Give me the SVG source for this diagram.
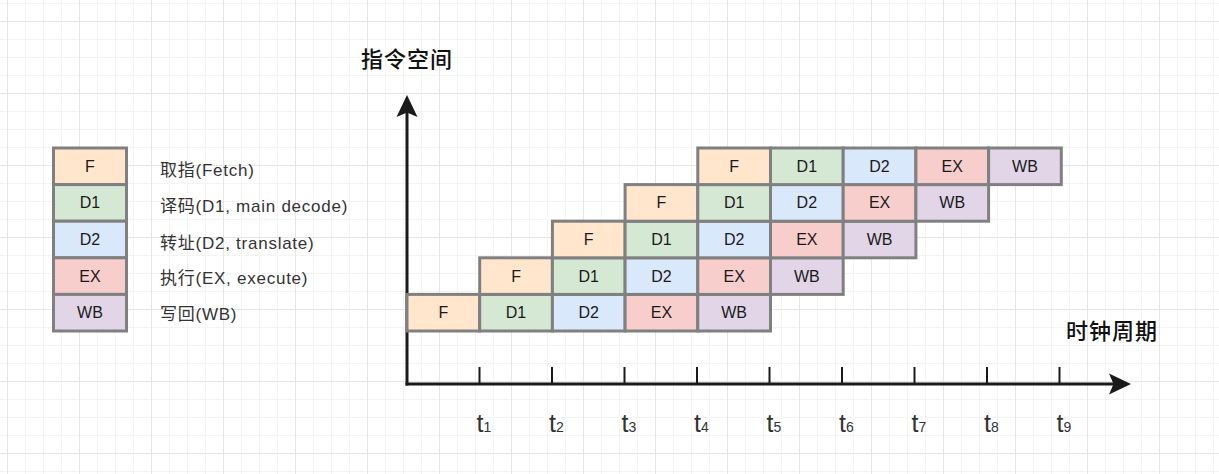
<svg xmlns="http://www.w3.org/2000/svg" width="1219" height="474" viewBox="0 0 1219 474">
<style>
.cell rect{stroke:#808080;stroke-width:3}
.F rect{fill:#ffe6cc}.D1 rect{fill:#d5e8d4}.D2 rect{fill:#dae8fc}.EX rect{fill:#f8cecc}.WB rect{fill:#e1d5e7}
.cell text{font-family:"Liberation Sans",Arial,sans-serif;font-size:16px;fill:#1a1a1a;text-anchor:middle}
.lbl{font-family:"Liberation Sans","Noto Sans CJK SC",sans-serif;font-size:17px;fill:#333;letter-spacing:0.75px}
.axl{font-family:"Noto Sans CJK SC",sans-serif;font-size:22px;font-weight:500;fill:#111;letter-spacing:1px}
.tk{font-family:"Liberation Sans",Arial,sans-serif;font-size:25px;fill:#333}
.tk tspan{font-size:14px}
.ax{stroke:#1a1a1a;stroke-width:3;fill:none}
.tick{stroke:#1a1a1a;stroke-width:2}
.head{fill:#1a1a1a}
</style>
<defs>
<pattern id="grid" x="7" y="21" width="72" height="72" patternUnits="userSpaceOnUse">
<path d="M18.5 0V72M36.5 0V72M54.5 0V72M0 18.5H72M0 36.5H72M0 54.5H72" stroke="#f4f4f4" stroke-width="1" fill="none"/>
<path d="M0.5 0V72M0 0.5H72" stroke="#e6e6e6" stroke-width="1" fill="none"/>
</pattern>
</defs>
<rect width="1219" height="474" fill="#ffffff"/>
<rect width="1219" height="474" fill="url(#grid)"/>

<g id="legend">
<g id="legend-F" class="cell F"><rect x="53.5" y="148" width="73" height="36.6"/><text x="90" y="171.8">F</text></g>
<g id="legend-D1" class="cell D1"><rect x="53.5" y="184.6" width="73" height="36.6"/><text x="90" y="208.4">D1</text></g>
<g id="legend-D2" class="cell D2"><rect x="53.5" y="221.2" width="73" height="36.6"/><text x="90" y="245">D2</text></g>
<g id="legend-EX" class="cell EX"><rect x="53.5" y="257.8" width="73" height="36.6"/><text x="90" y="281.6">EX</text></g>
<g id="legend-WB" class="cell WB"><rect x="53.5" y="294.4" width="73" height="36.6"/><text x="90" y="318.2">WB</text></g>
<text class="lbl" x="160" y="176">取指(Fetch)</text>
<text class="lbl" x="160" y="212">译码(D1, main decode)</text>
<text class="lbl" x="160" y="248.5">转址(D2, translate)</text>
<text class="lbl" x="160" y="284">执行(EX, execute)</text>
<text class="lbl" x="160" y="320">写回(WB)</text>
</g>

<g id="connectors">
<path class="ax" d="M407 385.5V110"/>
<polygon class="head" points="407,95 417.5,117 407,112.5 396.5,117"/>
<path class="ax" d="M405.5 384H1115"/>
<polygon class="head" points="1131,384 1109,373.5 1113.5,384 1109,394.5"/>
<path class="tick" d="M479.5 367V384M552 367V384M624.5 367V384M697 367V384M769.5 367V384M842 367V384M914.5 367V384M987 367V384M1059.5 367V384"/>
</g>

<g id="axis-labels">
<text class="axl" x="361" y="67">指令空间</text>
<text class="axl" x="1066" y="339">时钟周期</text>
<text class="tk" x="476.5" y="432">t<tspan>1</tspan></text>
<text class="tk" x="549" y="432">t<tspan>2</tspan></text>
<text class="tk" x="621.5" y="432">t<tspan>3</tspan></text>
<text class="tk" x="694" y="432">t<tspan>4</tspan></text>
<text class="tk" x="766.5" y="432">t<tspan>5</tspan></text>
<text class="tk" x="839" y="432">t<tspan>6</tspan></text>
<text class="tk" x="911.5" y="432">t<tspan>7</tspan></text>
<text class="tk" x="984" y="432">t<tspan>8</tspan></text>
<text class="tk" x="1056.5" y="432">t<tspan>9</tspan></text>
</g>

<g id="instr1">
<g id="i1-F" class="cell F"><rect x="407" y="294.4" width="72.7" height="36.6"/><text x="443.35" y="318.2">F</text></g>
<g id="i1-D1" class="cell D1"><rect x="479.7" y="294.4" width="72.7" height="36.6"/><text x="516.05" y="318.2">D1</text></g>
<g id="i1-D2" class="cell D2"><rect x="552.4" y="294.4" width="72.7" height="36.6"/><text x="588.75" y="318.2">D2</text></g>
<g id="i1-EX" class="cell EX"><rect x="625.1" y="294.4" width="72.7" height="36.6"/><text x="661.45" y="318.2">EX</text></g>
<g id="i1-WB" class="cell WB"><rect x="697.8" y="294.4" width="72.7" height="36.6"/><text x="734.15" y="318.2">WB</text></g>
</g>
<g id="instr2">
<g id="i2-F" class="cell F"><rect x="479.7" y="257.8" width="72.7" height="36.6"/><text x="516.05" y="281.6">F</text></g>
<g id="i2-D1" class="cell D1"><rect x="552.4" y="257.8" width="72.7" height="36.6"/><text x="588.75" y="281.6">D1</text></g>
<g id="i2-D2" class="cell D2"><rect x="625.1" y="257.8" width="72.7" height="36.6"/><text x="661.45" y="281.6">D2</text></g>
<g id="i2-EX" class="cell EX"><rect x="697.8" y="257.8" width="72.7" height="36.6"/><text x="734.15" y="281.6">EX</text></g>
<g id="i2-WB" class="cell WB"><rect x="770.5" y="257.8" width="72.7" height="36.6"/><text x="806.85" y="281.6">WB</text></g>
</g>
<g id="instr3">
<g id="i3-F" class="cell F"><rect x="552.4" y="221.2" width="72.7" height="36.6"/><text x="588.75" y="245">F</text></g>
<g id="i3-D1" class="cell D1"><rect x="625.1" y="221.2" width="72.7" height="36.6"/><text x="661.45" y="245">D1</text></g>
<g id="i3-D2" class="cell D2"><rect x="697.8" y="221.2" width="72.7" height="36.6"/><text x="734.15" y="245">D2</text></g>
<g id="i3-EX" class="cell EX"><rect x="770.5" y="221.2" width="72.7" height="36.6"/><text x="806.85" y="245">EX</text></g>
<g id="i3-WB" class="cell WB"><rect x="843.2" y="221.2" width="72.7" height="36.6"/><text x="879.55" y="245">WB</text></g>
</g>
<g id="instr4">
<g id="i4-F" class="cell F"><rect x="625.1" y="184.6" width="72.7" height="36.6"/><text x="661.45" y="208.4">F</text></g>
<g id="i4-D1" class="cell D1"><rect x="697.8" y="184.6" width="72.7" height="36.6"/><text x="734.15" y="208.4">D1</text></g>
<g id="i4-D2" class="cell D2"><rect x="770.5" y="184.6" width="72.7" height="36.6"/><text x="806.85" y="208.4">D2</text></g>
<g id="i4-EX" class="cell EX"><rect x="843.2" y="184.6" width="72.7" height="36.6"/><text x="879.55" y="208.4">EX</text></g>
<g id="i4-WB" class="cell WB"><rect x="915.9" y="184.6" width="72.7" height="36.6"/><text x="952.25" y="208.4">WB</text></g>
</g>
<g id="instr5">
<g id="i5-F" class="cell F"><rect x="697.8" y="148" width="72.7" height="36.6"/><text x="734.15" y="171.8">F</text></g>
<g id="i5-D1" class="cell D1"><rect x="770.5" y="148" width="72.7" height="36.6"/><text x="806.85" y="171.8">D1</text></g>
<g id="i5-D2" class="cell D2"><rect x="843.2" y="148" width="72.7" height="36.6"/><text x="879.55" y="171.8">D2</text></g>
<g id="i5-EX" class="cell EX"><rect x="915.9" y="148" width="72.7" height="36.6"/><text x="952.25" y="171.8">EX</text></g>
<g id="i5-WB" class="cell WB"><rect x="988.6" y="148" width="72.7" height="36.6"/><text x="1024.95" y="171.8">WB</text></g>
</g>
</svg>
